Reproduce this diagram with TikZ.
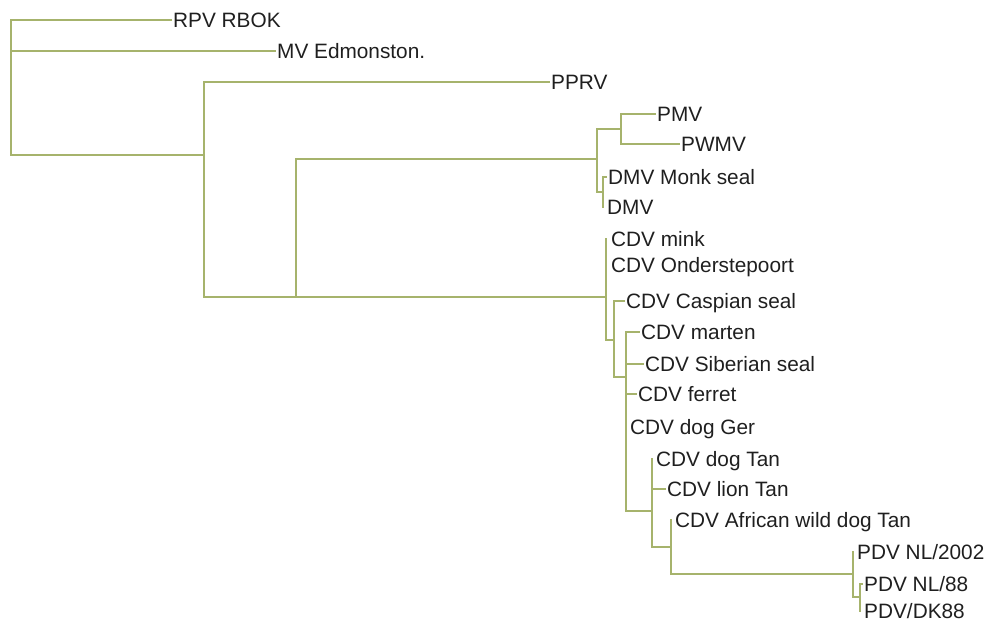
\documentclass[tikz,border=0pt]{standalone}
\usepackage{fontspec}
\setmainfont{Liberation Sans}
\definecolor{branch}{RGB}{166,179,108}
\begin{document}
\begin{tikzpicture}[x=1pt,y=-1pt,
  edge/.style={draw=branch,line width=2.8pt,line cap=rect},
  lab/.style={anchor=west,inner xsep=2pt,inner ysep=0pt,text height=14.9pt,text depth=0pt,
    font=\fontsize{20.8}{24}\selectfont,text=black!88}]
\useasboundingbox (0,0) rectangle (989,625);
% internal nodes
\coordinate (R) at (11,20);
\coordinate (N1) at (204,155);
\coordinate (N2) at (296,297);
\coordinate (N3) at (597,159);
\coordinate (N5) at (621,129);
\coordinate (N6) at (603,192);
\coordinate (N4) at (606,297);
\coordinate (N7) at (614,340);
\coordinate (N8) at (626,377);
\coordinate (N9) at (652,511);
\coordinate (N10) at (671,547);
\coordinate (N11) at (853,574);
\coordinate (N12) at (860,597);
% leaves
\node[lab] (rpv) at (171,20) {RPV RBOK};
\node[lab] (mv) at (275,51) {MV Edmonston.};
\node[lab] (pprv) at (549,82) {PPRV};
\node[lab] (pmv) at (655,114) {PMV};
\node[lab] (pwmv) at (679,144) {PWMV};
\node[lab] (monk) at (606,177) {DMV Monk seal};
\node[lab] (dmv) at (605,207) {DMV};
\node[lab] (mink) at (609,239) {CDV mink};
\node[lab] (onder) at (609,265) {CDV Onderstepoort};
\node[lab] (casp) at (624,301) {CDV Caspian seal};
\node[lab] (marten) at (639,332) {CDV marten};
\node[lab] (sib) at (643,364) {CDV Siberian seal};
\node[lab] (ferret) at (636,394) {CDV ferret};
\node[lab] (dogger) at (628,427) {CDV dog Ger};
\node[lab] (dogtan) at (654,459) {CDV dog Tan};
\node[lab] (lion) at (665,489) {CDV lion Tan};
\node[lab] (afr) at (673,520) {CDV African wild dog Tan};
\node[lab] (nla) at (855,552) {PDV NL/2002};
\node[lab] (nlb) at (862,584) {PDV NL/88};
\node[lab] (dk) at (862,611) {PDV/DK88};
% connectors
\path[edge] (R) |- (rpv.west);
\path[edge] (R) |- (mv.west);
\path[edge] (R) |- (N1);
\path[edge] (N1) |- (pprv.west);
\path[edge] (N1) |- (N2);
\path[edge] (N2) |- (N3);
\path[edge] (N2) |- (N4);
\path[edge] (N3) |- (N5);
\path[edge] (N3) |- (N6);
\path[edge] (N5) |- (pmv.west);
\path[edge] (N5) |- (pwmv.west);
\path[edge] (N6) |- (monk.west);
\path[edge] (N6) |- (N6 |- dmv.west);
\path[edge] (N4) |- (N4 |- mink.west);
\path[edge] (N4) |- (N7);
\path[edge] (N7) |- (casp.west);
\path[edge] (N7) |- (N8);
\path[edge] (N8) |- (marten.west);
\path[edge] (N8) |- (sib.west);
\path[edge] (N8) |- (ferret.west);
\path[edge] (N8) |- (N9);
\path[edge] (N9) |- (N9 |- dogtan.west);
\path[edge] (N9) |- (lion.west);
\path[edge] (N9) |- (N10);
\path[edge] (N10) |- (N10 |- afr.west);
\path[edge] (N10) |- (N11);
\path[edge] (N11) |- (N11 |- nla.west);
\path[edge] (N11) |- (N12);
\path[edge] (N12) |- (nlb.west);
\path[edge] (N12) |- (N12 |- dk.west);
\end{tikzpicture}
\end{document}
